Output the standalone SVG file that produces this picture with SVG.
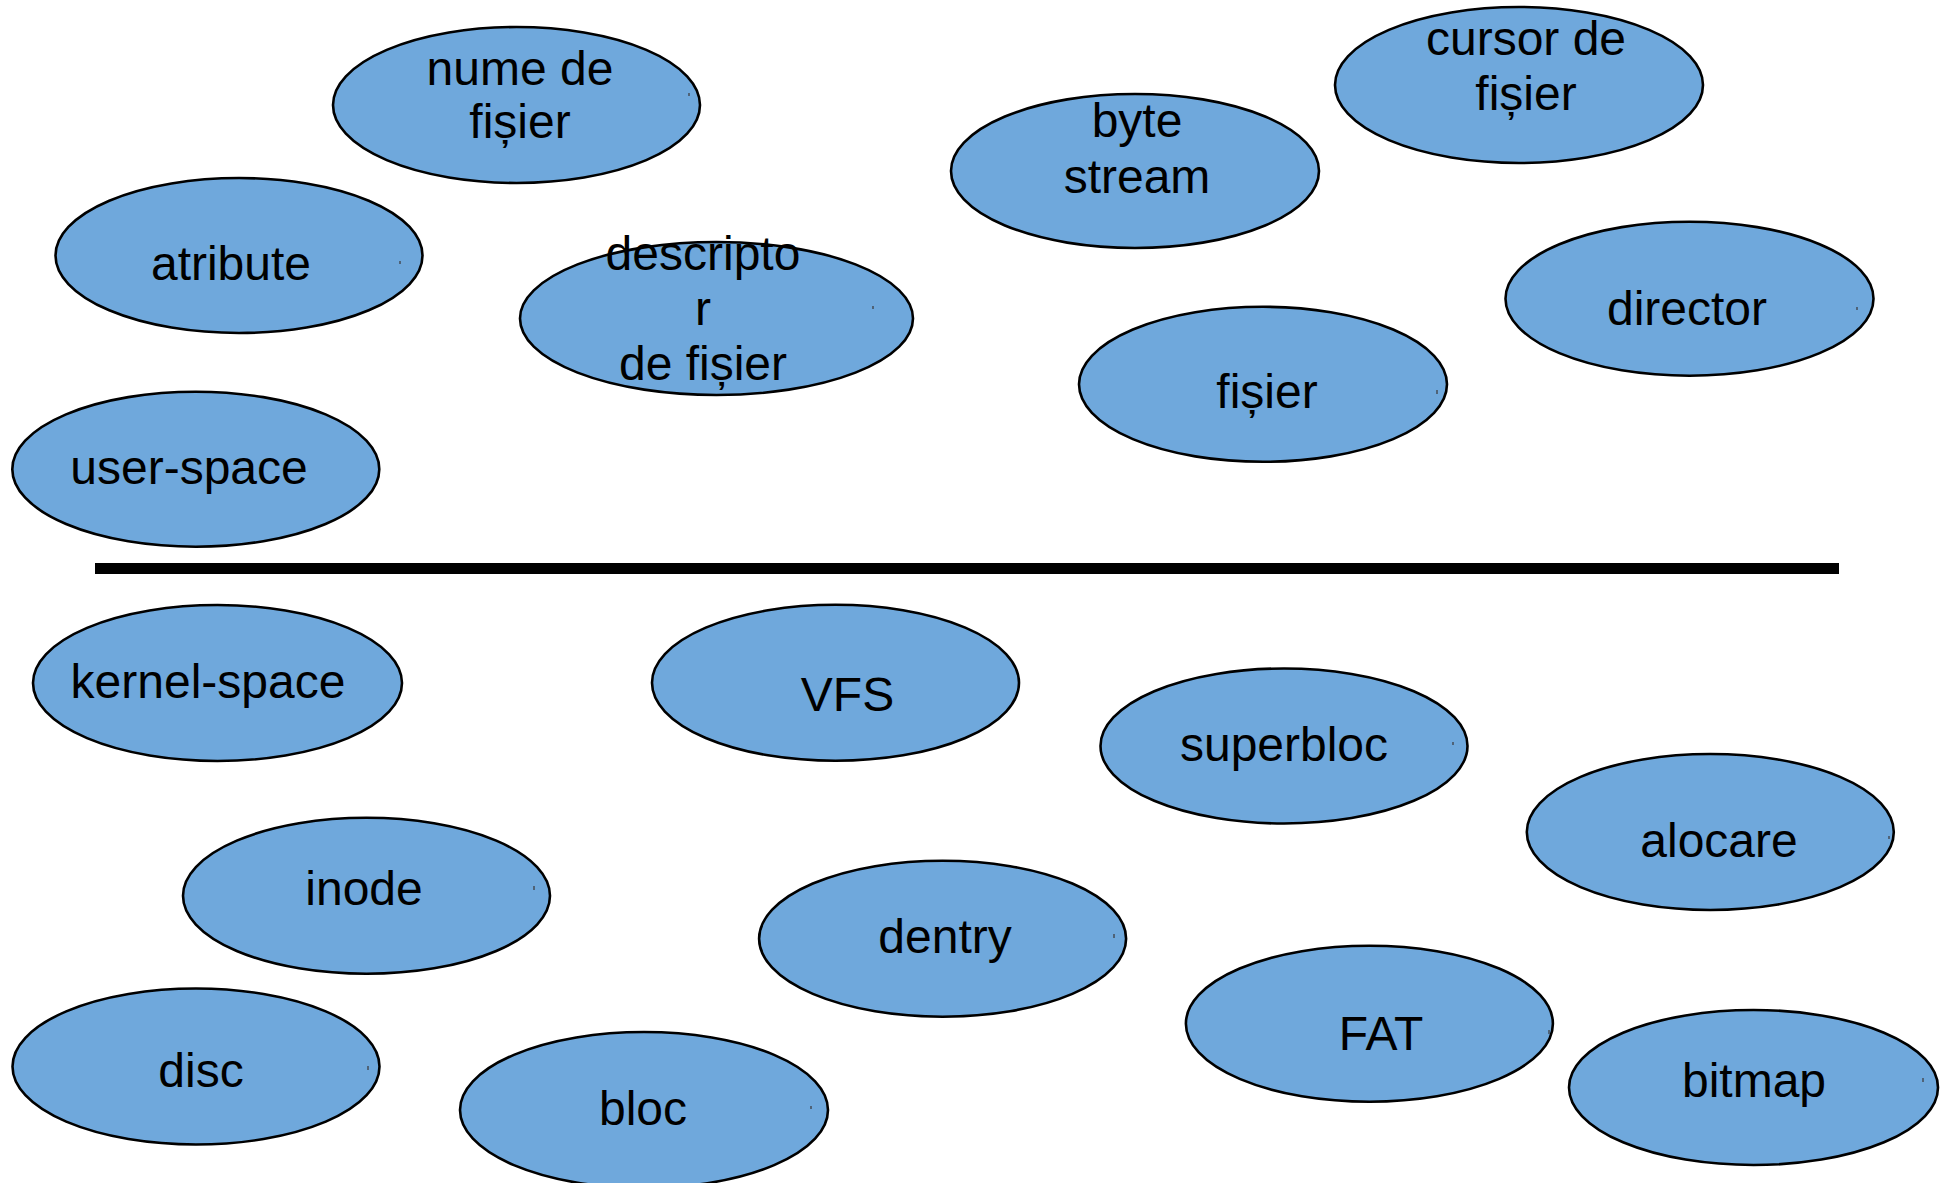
<svg xmlns="http://www.w3.org/2000/svg" width="1951" height="1183" viewBox="0 0 1951 1183">
  <style>
    .node ellipse { fill: #6fa8dc; stroke: #000; stroke-width: 2.6; }
    .node text { font-family: "Liberation Sans", Arial, sans-serif; font-size: 48px; fill: #000; text-anchor: middle; }
    .tick { fill: #4f6378; }
  </style>
  <rect width="1951" height="1183" fill="#fff"/>

  <!-- user-space concepts -->
  <g id="nume-de-fisier" class="node">
    <ellipse cx="516.5" cy="105" rx="183.5" ry="78"/>
    <text x="520" y="85">nume de</text>
    <text x="520" y="138">fișier</text>
    <rect class="tick" x="688" y="93" width="2" height="3"/>
  </g>
  <g id="cursor-de-fisier" class="node">
    <ellipse cx="1519" cy="85" rx="184" ry="78"/>
    <text x="1526" y="55">cursor de</text>
    <text x="1526" y="110">fișier</text>
  </g>
  <g id="byte-stream" class="node">
    <ellipse cx="1135" cy="171" rx="184" ry="77"/>
    <text x="1137" y="137">byte</text>
    <text x="1137" y="193">stream</text>
  </g>
  <g id="atribute" class="node">
    <ellipse cx="239" cy="255.5" rx="183.5" ry="77.5"/>
    <text x="231" y="280">atribute</text>
    <rect class="tick" x="399" y="261" width="2" height="3"/>
  </g>
  <g id="descriptor-de-fisier" class="node">
    <ellipse cx="716.5" cy="318.5" rx="196.5" ry="76.5"/>
    <text x="703" y="270">descripto</text>
    <text x="703" y="325">r</text>
    <text x="703" y="380">de fișier</text>
    <rect class="tick" x="872" y="306" width="2" height="3"/>
  </g>
  <g id="director" class="node">
    <ellipse cx="1689.5" cy="298.7" rx="184" ry="77"/>
    <text x="1687" y="325">director</text>
    <rect class="tick" x="1856" y="307" width="2" height="3"/>
  </g>
  <g id="fisier" class="node">
    <ellipse cx="1263" cy="384.3" rx="184" ry="77.5"/>
    <text x="1267" y="408">fișier</text>
    <rect class="tick" x="1436" y="390" width="2" height="4"/>
  </g>
  <g id="user-space" class="node">
    <ellipse cx="195.8" cy="469.2" rx="183.5" ry="77.5"/>
    <text x="189" y="484">user-space</text>
  </g>

  <!-- boundary between user-space and kernel-space -->
  <g id="connectors">
    <rect x="95" y="563" width="1744" height="11" fill="#000"/>
  </g>

  <!-- kernel-space concepts -->
  <g id="kernel-space" class="node">
    <ellipse cx="217.5" cy="683" rx="184.5" ry="78"/>
    <text x="208" y="698">kernel-space</text>
  </g>
  <g id="vfs" class="node">
    <ellipse cx="835.5" cy="682.8" rx="183.5" ry="78"/>
    <text x="847.5" y="711">VFS</text>
  </g>
  <g id="superbloc" class="node">
    <ellipse cx="1284" cy="746" rx="183.5" ry="77.5"/>
    <text x="1284" y="761">superbloc</text>
    <rect class="tick" x="1452" y="742" width="2" height="3"/>
  </g>
  <g id="alocare" class="node">
    <ellipse cx="1710.3" cy="832" rx="183.5" ry="78"/>
    <text x="1719" y="857">alocare</text>
    <rect class="tick" x="1888" y="836" width="2" height="3"/>
  </g>
  <g id="inode" class="node">
    <ellipse cx="366.5" cy="895.8" rx="183.5" ry="78"/>
    <text x="364" y="905">inode</text>
    <rect class="tick" x="533" y="886" width="2" height="4"/>
  </g>
  <g id="dentry" class="node">
    <ellipse cx="942.6" cy="938.7" rx="183.5" ry="78"/>
    <text x="945" y="953">dentry</text>
    <rect class="tick" x="1113" y="934" width="2" height="4"/>
  </g>
  <g id="fat" class="node">
    <ellipse cx="1369.4" cy="1023.7" rx="183.5" ry="78"/>
    <text x="1381" y="1050">FAT</text>
    <rect class="tick" x="1548" y="1030" width="2" height="4"/>
  </g>
  <g id="disc" class="node">
    <ellipse cx="196" cy="1066.5" rx="183.5" ry="78"/>
    <text x="201" y="1087">disc</text>
    <rect class="tick" x="367" y="1066" width="2" height="4"/>
  </g>
  <g id="bloc" class="node">
    <ellipse cx="644" cy="1110" rx="184" ry="78"/>
    <text x="643" y="1125">bloc</text>
    <rect class="tick" x="810" y="1106" width="2" height="3"/>
  </g>
  <g id="bitmap" class="node">
    <ellipse cx="1753.5" cy="1087.5" rx="184.5" ry="77.5"/>
    <text x="1754" y="1097">bitmap</text>
    <rect class="tick" x="1922" y="1078" width="2" height="4"/>
  </g>
</svg>
